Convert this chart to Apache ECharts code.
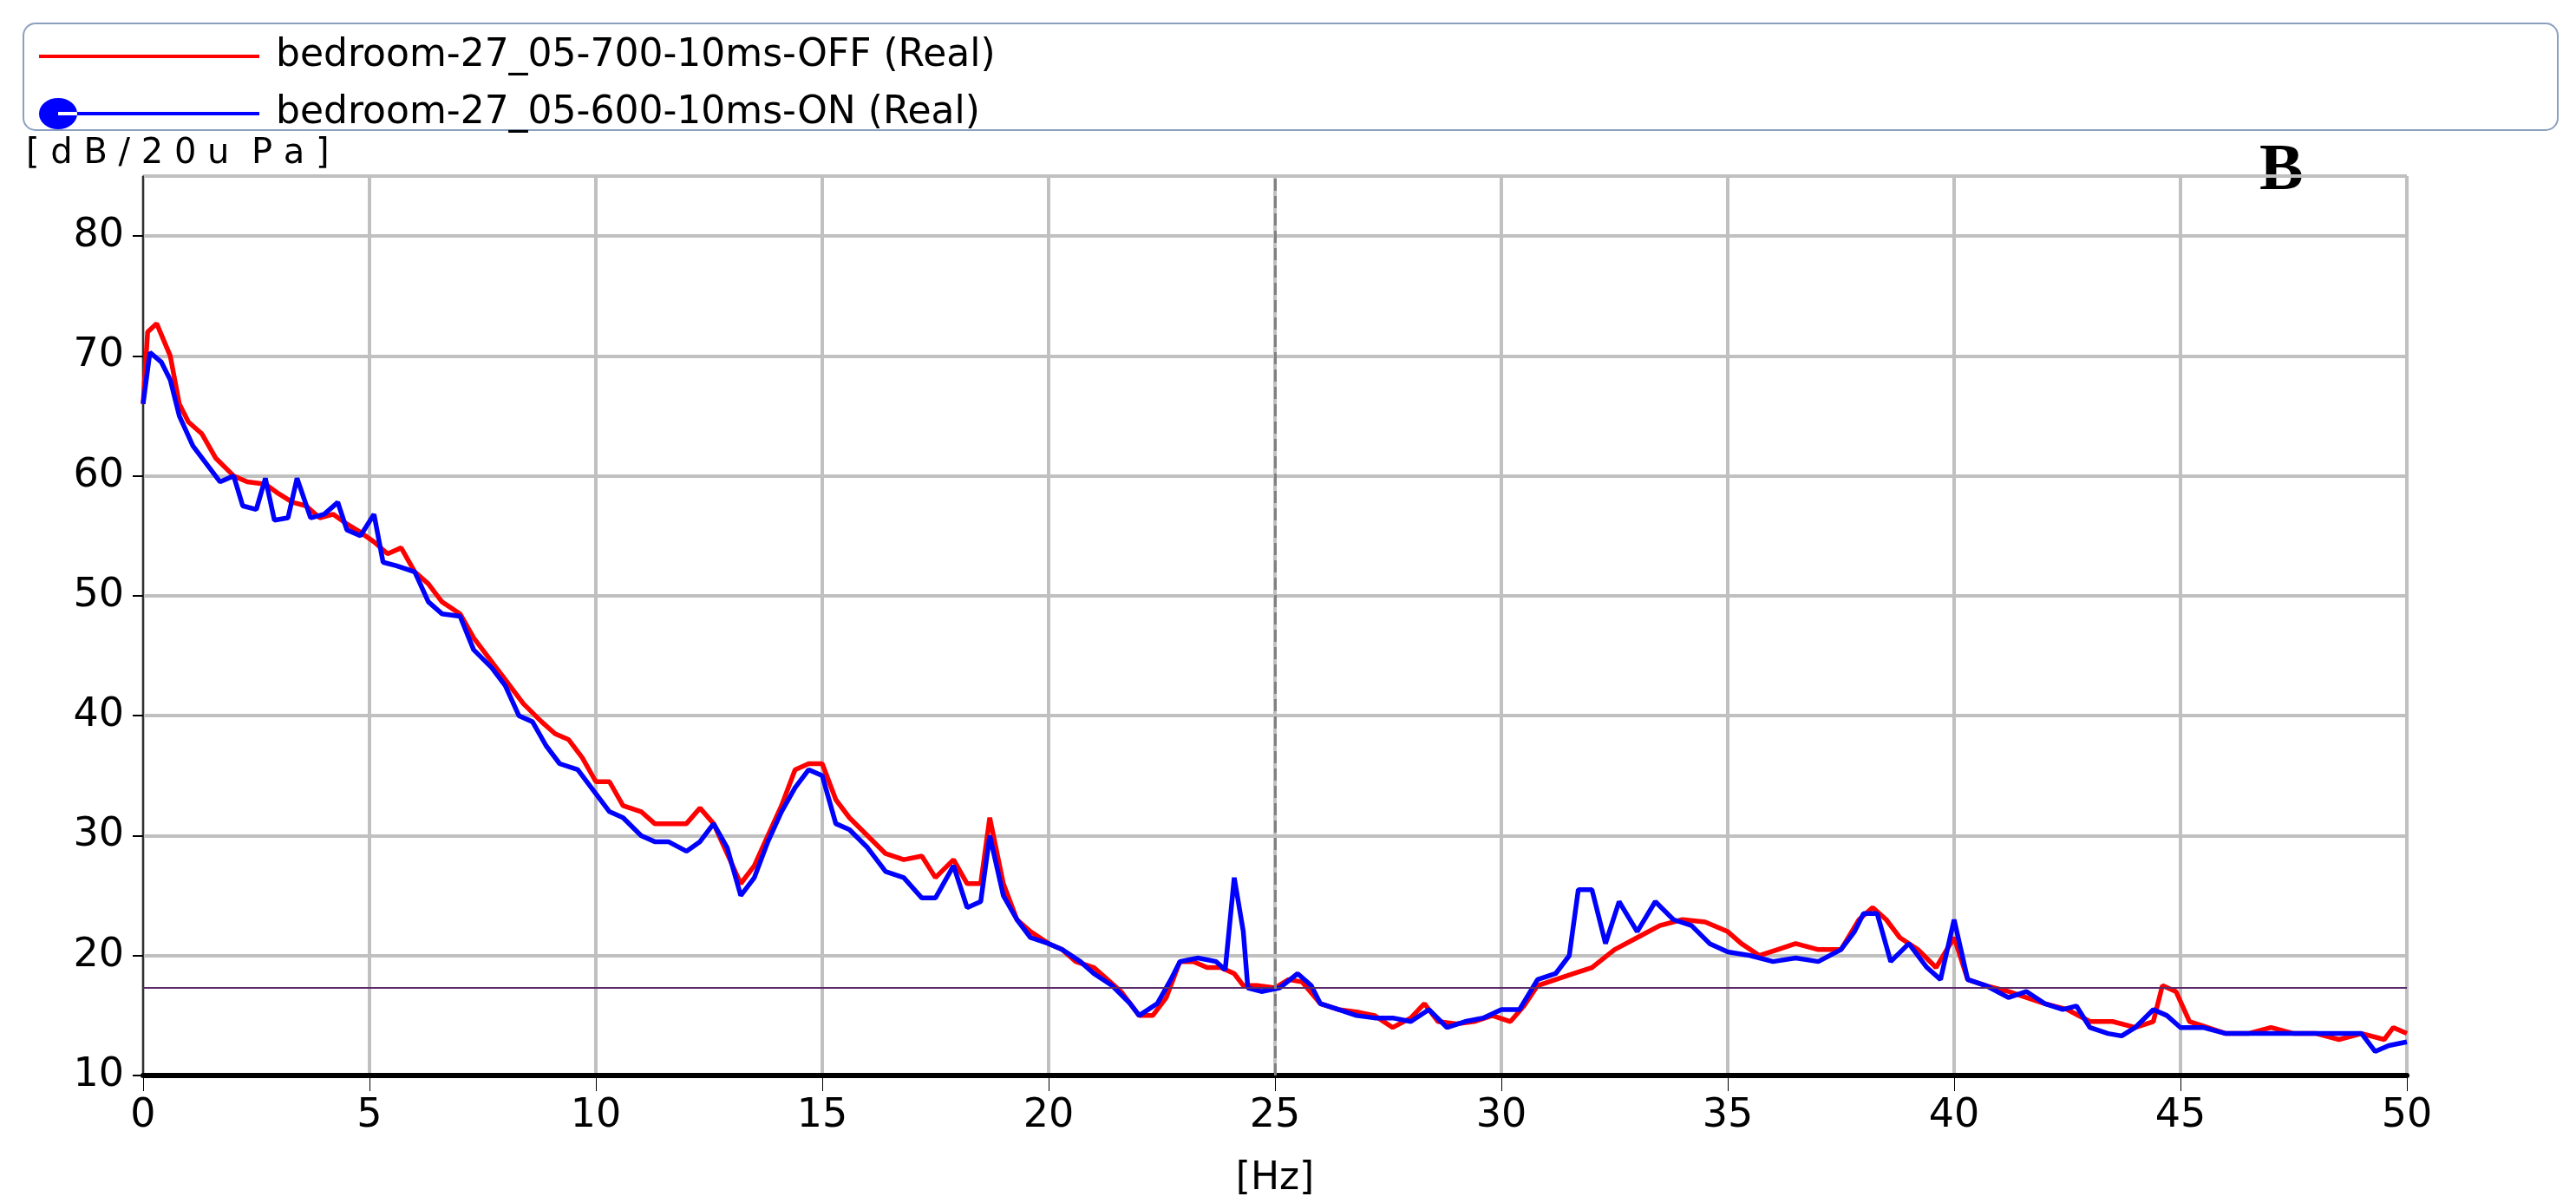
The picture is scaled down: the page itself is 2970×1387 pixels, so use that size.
<!DOCTYPE html>
<html><head><meta charset="utf-8">
<script src="https://cdn.jsdelivr.net/npm/echarts@6/dist/echarts.min.js"></script>
<style>html,body{margin:0;padding:0;background:#fff}#c{width:2970px;height:1387px}</style>
</head><body><div id="c"></div>
<script>
var offName = 'bedroom-27_05-700-10ms-OFF (Real)',
    onName = 'bedroom-27_05-600-10ms-ON (Real)';

var offData = [[0,66],[0.1,72],[0.3,72.7],[0.6,70],[0.8,66],[1,64.5],[1.3,63.5],[1.6,61.5],[2,60],[2.3,59.5],[2.7,59.3],[3,58.5],[3.3,57.8],[3.6,57.5],[3.9,56.5],[4.2,56.8],[4.5,56],[4.8,55.3],[5.1,54.5],[5.4,53.5],[5.7,54],[6,52],[6.3,51],[6.6,49.5],[7,48.5],[7.3,46.5],[7.6,45],[8,43],[8.4,41],[8.8,39.5],[9.1,38.5],[9.4,38],[9.7,36.5],[10,34.5],[10.3,34.5],[10.6,32.5],[11,32],[11.3,31],[11.6,31],[12,31],[12.3,32.3],[12.6,31],[12.9,28.5],[13.2,26],[13.5,27.5],[13.8,30],[14.1,32.5],[14.4,35.5],[14.7,36],[15,36],[15.3,33],[15.6,31.5],[16,30],[16.4,28.5],[16.8,28],[17.2,28.3],[17.5,26.5],[17.9,28],[18.2,26],[18.5,26],[18.7,31.5],[19,26],[19.3,23],[19.6,22],[20,21],[20.3,20.5],[20.6,19.5],[21,19],[21.3,18],[21.6,17],[22,15],[22.3,15],[22.6,16.5],[22.9,19.5],[23.2,19.5],[23.5,19],[23.8,19],[24.1,18.5],[24.3,17.5],[24.6,17.5],[25,17.3],[25.3,18],[25.6,17.8],[26,16],[26.4,15.5],[26.8,15.3],[27.2,15],[27.6,14],[28,14.8],[28.3,16],[28.6,14.5],[29,14.3],[29.4,14.5],[29.8,15],[30.2,14.5],[30.5,15.8],[30.8,17.5],[31.2,18],[31.6,18.5],[32,19],[32.5,20.5],[33,21.5],[33.5,22.5],[34,23],[34.5,22.8],[35,22],[35.3,21],[35.7,20],[36.1,20.5],[36.5,21],[37,20.5],[37.5,20.5],[37.9,23],[38.2,24],[38.5,23],[38.8,21.5],[39.2,20.5],[39.6,19],[40,21.5],[40.3,18],[40.7,17.5],[41.2,17],[41.6,16.5],[42,16],[42.5,15.5],[43,14.5],[43.5,14.5],[44,14],[44.4,14.5],[44.6,17.5],[44.9,17],[45.2,14.5],[45.6,14],[46,13.5],[46.5,13.5],[47,14],[47.5,13.5],[48,13.5],[48.5,13],[49,13.5],[49.5,13],[49.7,14],[50,13.5]];

var onData = [[0,66],[0.15,70.3],[0.4,69.5],[0.6,68],[0.8,65],[1.1,62.5],[1.4,61],[1.7,59.5],[2,60],[2.2,57.5],[2.5,57.2],[2.7,59.8],[2.9,56.3],[3.2,56.5],[3.4,59.8],[3.7,56.5],[4,56.8],[4.3,57.8],[4.5,55.5],[4.8,55],[5.1,56.8],[5.3,52.8],[5.6,52.5],[6,52],[6.3,49.5],[6.6,48.5],[7,48.3],[7.3,45.5],[7.7,44],[8,42.5],[8.3,40],[8.6,39.5],[8.9,37.5],[9.2,36],[9.6,35.5],[10,33.5],[10.3,32],[10.6,31.5],[11,30],[11.3,29.5],[11.6,29.5],[12,28.7],[12.3,29.5],[12.6,31],[12.9,29],[13.2,25],[13.5,26.5],[13.8,29.5],[14.1,32],[14.4,34],[14.7,35.5],[15,35],[15.3,31],[15.6,30.5],[16,29],[16.4,27],[16.8,26.5],[17.2,24.8],[17.5,24.8],[17.9,27.5],[18.2,24],[18.5,24.5],[18.7,30],[19,25],[19.3,23],[19.6,21.5],[20,21],[20.3,20.5],[20.7,19.5],[21,18.5],[21.4,17.5],[21.8,16],[22,15],[22.4,16],[22.7,18],[22.9,19.5],[23.3,19.8],[23.7,19.5],[23.9,18.8],[24.1,26.5],[24.3,22],[24.4,17.3],[24.7,17],[25.1,17.3],[25.5,18.5],[25.8,17.5],[26,16],[26.4,15.5],[26.8,15],[27.2,14.8],[27.6,14.8],[28,14.5],[28.4,15.5],[28.8,14],[29.2,14.5],[29.6,14.8],[30,15.5],[30.4,15.5],[30.8,18],[31.2,18.5],[31.5,20],[31.7,25.5],[32,25.5],[32.3,21],[32.6,24.5],[33,22],[33.4,24.5],[33.8,23],[34.2,22.5],[34.6,21],[35,20.3],[35.5,20],[36,19.5],[36.5,19.8],[37,19.5],[37.5,20.5],[37.8,22],[38,23.5],[38.3,23.5],[38.6,19.5],[39,21],[39.4,19],[39.7,18],[40,23],[40.3,18],[40.7,17.5],[41.2,16.5],[41.6,17],[42,16],[42.4,15.5],[42.7,15.8],[43,14],[43.4,13.5],[43.7,13.3],[44,14],[44.4,15.5],[44.7,15],[45,14],[45.5,14],[46,13.5],[46.5,13.5],[47,13.5],[47.5,13.5],[48,13.5],[48.5,13.5],[49,13.5],[49.3,12],[49.6,12.5],[50,12.8]];

var refLevel = 17.3,
    markFreq = 25;

var font = 'DejaVu Sans, sans-serif';
var chart = echarts.init(document.getElementById('c'));
chart.setOption({
    animation: false,
    grid: {left: 165, right: 195, top: 203, bottom: 147},
    graphic: [
        {type: 'rect', shape: {x: 27, y: 27, width: 2922, height: 123, r: 14},
            style: {fill: 'none', stroke: '#8aa0c0', lineWidth: 2}},
        {type: 'text', left: 30, top: 158, style: {text: '[ d B / 2 0 u  P a ]', font: '40px ' + font, fill: '#000'}},
        {type: 'text', left: 2605, top: 160, style: {text: 'B', font: 'bold 76px "Liberation Serif", serif', fill: '#000'}}
    ],
    legend: {
        orient: 'vertical', left: 40, top: 38, itemWidth: 254, itemHeight: 36, itemGap: 22,
        textStyle: {fontFamily: font, fontSize: 44, color: '#000', padding: [0, 0, 0, 14]},
        data: [
            {name: offName, icon: 'path://M0,16H254V20H0Z'},
            {name: onName, icon: 'path://M0,18A22,18 0 1,0 44,18A22,18 0 1,0 0,18ZM22,16H254V20H22Z'}
        ]
    },
    xAxis: {
        type: 'value', min: 0, max: 50, interval: 5,
        name: '[Hz]', nameLocation: 'middle', nameGap: 98,
        nameTextStyle: {fontFamily: font, fontSize: 44, color: '#000'},
        axisLine: {show: true, onZero: false, lineStyle: {color: '#000', width: 6}},
        axisTick: {show: true, length: 18, lineStyle: {color: '#000', width: 1}},
        axisLabel: {fontFamily: font, fontSize: 46, color: '#000', margin: 24},
        splitLine: {show: true, lineStyle: {color: '#c0c0c0', width: 4}}
    },
    yAxis: {
        type: 'value', min: 10, max: 85, interval: 10,
        axisLine: {show: true, lineStyle: {color: '#000', width: 1.5}},
        axisTick: {show: true, length: 12, lineStyle: {color: '#000', width: 2}},
        axisLabel: {fontFamily: font, fontSize: 46, color: '#000', margin: 22, showMaxLabel: false},
        splitLine: {show: true, lineStyle: {color: '#c0c0c0', width: 4}}
    },
    series: [
        {name: offName, type: 'line', data: offData, showSymbol: false, symbol: 'none',
            lineStyle: {color: '#ff0000', width: 5.5}, itemStyle: {color: '#ff0000'},
            markLine: {silent: true, symbol: 'none', label: {show: false},
                data: [
                    {yAxis: refLevel, lineStyle: {color: '#5a2a6a', width: 2, type: 'solid'}},
                    {xAxis: markFreq, lineStyle: {color: '#808080', width: 3, type: [14, 6]}}
                ]}},
        {name: onName, type: 'line', data: onData, showSymbol: false, symbol: 'circle',
            lineStyle: {color: '#0000ff', width: 5.5}, itemStyle: {color: '#0000ff'}}
    ]
});
</script></body></html>
